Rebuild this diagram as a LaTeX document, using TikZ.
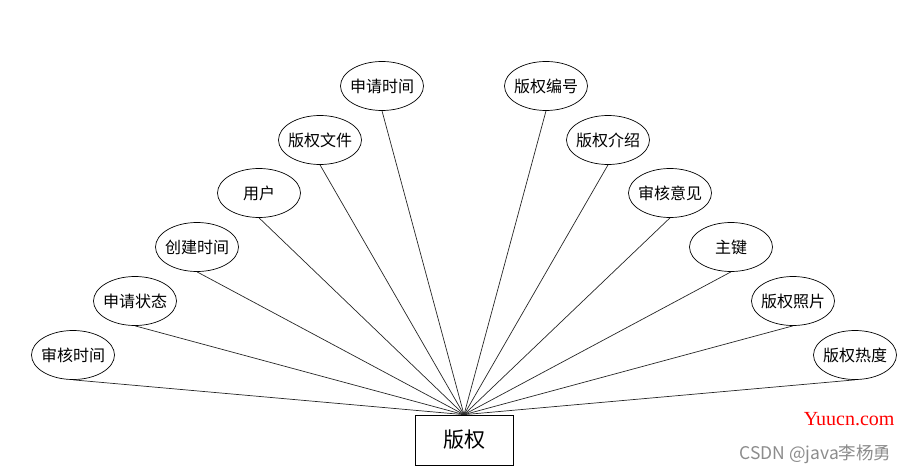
\documentclass[tikz,border=0pt]{standalone}
\usepackage{fontspec}
\setmainfont{Liberation Serif}
\newfontfamily\cjkfont{Noto Sans CJK SC}
\usetikzlibrary{shapes.geometric}

\begin{document}
\begin{tikzpicture}[
    x=1pt, y=-1pt,
    font=\cjkfont\fontsize{16}{18}\selectfont,
    attr/.style={draw, ellipse, minimum width=83pt, minimum height=49pt, inner sep=-3pt, line width=0.7pt},
    entity/.style={draw, rectangle, minimum width=98pt, minimum height=50pt, line width=0.7pt, font=\cjkfont\fontsize{21}{24}\selectfont},
    link/.style={draw=black!85, line width=0.7pt}
]
    \useasboundingbox (0,0) rectangle (909,473);

    \node[entity] (copyright) at (464,440) {版权};

    % attributes, left half
    \node[attr] (audittime) at (73,355) {审核时间};
    \node[attr] (applystate) at (135,301) {申请状态};
    \node[attr] (created) at (197,247) {创建时间};
    \node[attr] (user) at (259,193) {用户};
    \node[attr] (file) at (320,140) {版权文件};
    \node[attr] (applytime) at (382,86) {申请时间};

    % attributes, right half
    \node[attr] (number) at (546,86) {版权编号};
    \node[attr] (intro) at (608,140) {版权介绍};
    \node[attr] (opinion) at (670,193) {审核意见};
    \node[attr] (key) at (731,247) {主键};
    \node[attr] (photo) at (793,301) {版权照片};
    \node[attr] (heat) at (855,355) {版权热度};

    \draw[link] (audittime.south) -- (copyright.north);
    \draw[link] (applystate.south) -- (copyright.north);
    \draw[link] (created.south) -- (copyright.north);
    \draw[link] (user.south) -- (copyright.north);
    \draw[link] (file.south) -- (copyright.north);
    \draw[link] (applytime.south) -- (copyright.north);
    \draw[link] (number.south) -- (copyright.north);
    \draw[link] (intro.south) -- (copyright.north);
    \draw[link] (opinion.south) -- (copyright.north);
    \draw[link] (key.south) -- (copyright.north);
    \draw[link] (photo.south) -- (copyright.north);
    \draw[link] (heat.south) -- (copyright.north);

    % watermarks
    \node[anchor=east, text=red, font=\fontsize{20}{22}\selectfont] (mark1) at (898,419) {Yuucn.com};
    \node[anchor=east, text=black!45, font=\cjkfont\fontsize{17.5}{20}\selectfont] (mark2) at (895,454) {CSDN @java李杨勇};
\end{tikzpicture}
\end{document}
